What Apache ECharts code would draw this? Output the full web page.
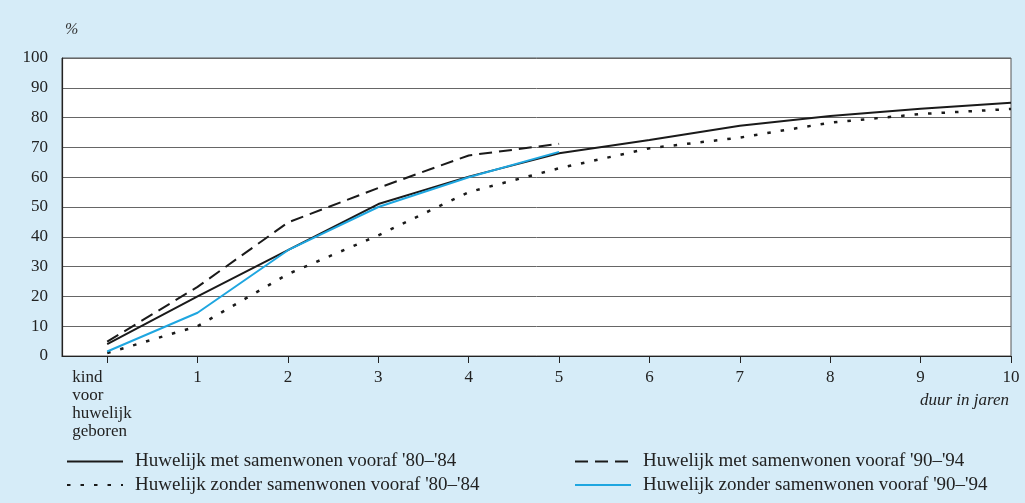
<!DOCTYPE html>
<html>
<head>
<meta charset="utf-8">
<script src="https://cdn.jsdelivr.net/npm/echarts@6/dist/echarts.min.js"></script>
<style>
html,body{margin:0;padding:0;background:#d6ecf8;}
#c{width:1025px;height:503px;}
</style>
</head>
<body>
<div id="c"></div>
<script>
var xTicks = [0,1,2,3,4,5,6,7,8,9,10];
var xTickLabels = ['kind\nvoor\nhuwelijk\ngeboren','1','2','3','4','5','6','7','8','9','10'];
var yTicks = [0,10,20,30,40,50,60,70,80,90,100];

var names = [
  "Huwelijk met samenwonen vooraf '80–'84",
  "Huwelijk zonder samenwonen vooraf '80–'84",
  "Huwelijk met samenwonen vooraf '90–'94",
  "Huwelijk zonder samenwonen vooraf '90–'94"
];
var metSam8084   = [4, 20, 35.5, 51, 60.2, 68, 72.5, 77.3, 80.5, 83, 85];
var zonderSam8084= [1, 10, 27.5, 40.5, 55, 63, 69.7, 73.3, 78.3, 81.2, 82.9];
var metSam9094   = [4.8, 23.2, 44.8, 56.4, 67.3, 71.2];
var zonderSam9094= [1.5, 14.5, 35.5, 50, 60, 68.5];

function pairs(arr){ return arr.map(function(v,i){ return [xTicks[i], v]; }); }

var serif = '"Liberation Serif", "DejaVu Serif", serif';
function legendAt(name, left, top) {
  return {
    type: 'plain', orient: 'horizontal', left: left, top: top, padding: 0,
    itemWidth: 56, itemHeight: 14,
    itemStyle: {opacity: 0, borderWidth: 0},
    textStyle: {fontFamily: serif, fontSize: 19, lineHeight: 20, color: '#222', padding: [0, 0, 0, 7]},
    data: [name]
  };
}
var chart = echarts.init(document.getElementById('c'));
chart.setOption({
  backgroundColor: '#d6ecf8',
  animation: false,
  textStyle: {fontFamily: serif},
  title: [
    {text: '%', left: 60, top: 17, textStyle: {fontFamily: serif, fontSize: 16, fontStyle: 'italic', fontWeight: 'normal', color: '#333'}},
    {text: 'duur in jaren', right: 11, top: 387, textStyle: {fontFamily: serif, fontSize: 17, fontStyle: 'italic', fontWeight: 'normal', color: '#222'}}
  ],
  grid: {left: 62, right: 14, top: 58, bottom: 147, show: true, backgroundColor: '#ffffff', borderColor: '#555', borderWidth: 1},
  xAxis: {
    type: 'value', min: -0.5, max: 10,
    axisLine: {show: true, onZero: false, lineStyle: {color: '#222', width: 1.2}},
    axisTick: {show: true, customValues: xTicks, length: 7, lineStyle: {color: '#222'}},
    splitLine: {show: false},
    axisLabel: {
      customValues: xTicks, margin: 13, color: '#222', fontSize: 17, fontFamily: serif,
      formatter: function(v){
        var i = xTicks.indexOf(v);
        if (i === 0) {
          return xTickLabels[0].split('\n').map(function(s){ return '{a|' + s + '}'; }).join('\n');
        }
        return i >= 0 ? xTickLabels[i] : '';
      },
      rich: {a: {width: 70, align: 'left', fontSize: 17, lineHeight: 18, fontFamily: serif, color: '#222'}}
    }
  },
  yAxis: {
    type: 'value', min: 0, max: 100, interval: 10,
    axisLine: {show: true, onZero: false, lineStyle: {color: '#222', width: 1.2}},
    axisTick: {show: false},
    splitLine: {show: true, lineStyle: {color: '#666', width: 1}},
    axisLabel: {margin: 14, color: '#222', fontSize: 17, fontFamily: serif}
  },
  legend: [
    legendAt(names[0], 66, 451.5),
    legendAt(names[1], 66, 475),
    legendAt(names[2], 574, 451.5),
    legendAt(names[3], 574, 475)
  ],
  series: [
    {name: names[0], type: 'line', symbol: 'none', data: pairs(metSam8084),
     lineStyle: {color: '#1a1a1a', width: 2}, itemStyle: {color: '#1a1a1a'}, z: 3},
    {name: names[1], type: 'line', symbol: 'none', data: pairs(zonderSam8084),
     lineStyle: {color: '#1a1a1a', width: 2.5, type: [3.5, 10]}, itemStyle: {color: '#1a1a1a'}, z: 2},
    {name: names[2], type: 'line', symbol: 'none', data: pairs(metSam9094),
     lineStyle: {color: '#1a1a1a', width: 2, type: [13, 7]}, itemStyle: {color: '#1a1a1a'}, z: 2},
    {name: names[3], type: 'line', symbol: 'none', data: pairs(zonderSam9094),
     lineStyle: {color: '#1ea6e0', width: 2}, itemStyle: {color: '#1ea6e0'}, z: 4}
  ]
});
</script>
</body>
</html>
